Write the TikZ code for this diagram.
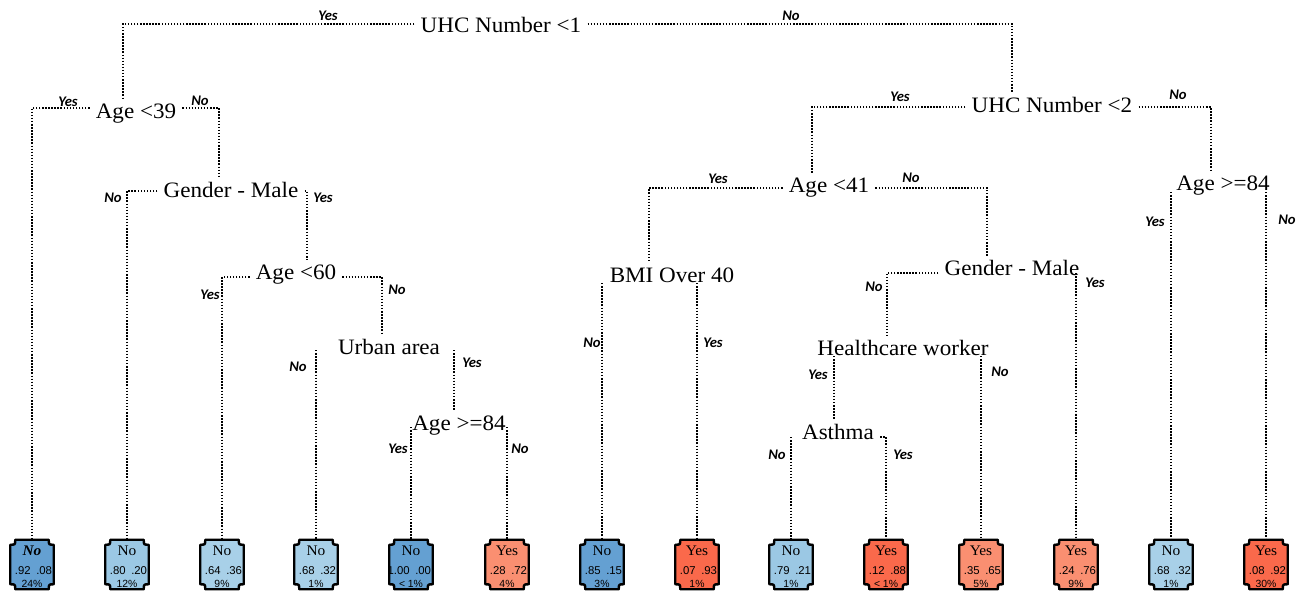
\documentclass[tikz,border=0pt]{standalone}
\usepackage{fontspec}
\setmainfont[FakeStretch=1.05]{Liberation Serif}
\newfontfamily\lblfont{Carlito}
\newfontfamily\numfont{Liberation Sans}
\usetikzlibrary{calc}

\definecolor{bdark}{RGB}{100,160,210}
\definecolor{bmid}{RGB}{155,200,228}
\definecolor{blight}{RGB}{168,208,232}
\definecolor{odark}{RGB}{250,105,75}
\definecolor{olight}{RGB}{250,143,113}

\tikzset{
  split/.style={font=\fontsize{16.5}{18}\selectfont, anchor=base, inner xsep=4.5pt, inner ysep=1.5pt, text height=12.75pt, text depth=3pt},
  yn/.style={font=\lblfont\bfseries\itshape\fontsize{11}{12}\selectfont, inner sep=0pt},
  br/.style={line width=1.5pt, dash pattern=on 1.1pt off 1.2pt},
  leafbox/.style={minimum width=32.25pt, minimum height=36.75pt, inner sep=0pt, draw=none},
  leafline/.style={line width=1.8pt, draw=black, line join=round},
  clsf/.style={font=\fontsize{11}{12}\selectfont, inner sep=0pt},
  numf/.style={font=\numfont\fontsize{8.5}{9}\selectfont, inner sep=0pt},
  pctf/.style={font=\numfont\fontsize{7.8}{9}\selectfont, inner sep=0pt}
}

% #1 name, #2 x, #3 fill, #4 class, #5 p1, #6 p2, #7 percent
\newcommand\leafnode[7]{%
  \node[leafbox] (#1) at (#2,564.5) {};
  \filldraw[leafline, fill=#3]
    ($(#1.north west)+(5,0)$) -- ($(#1.north east)+(-5,0)$)
    .. controls ($(#1.north east)+(-5,5)$) .. ($(#1.north east)+(0,5)$)
    -- ($(#1.south east)+(0,-5)$)
    .. controls ($(#1.south east)+(-5,-5)$) .. ($(#1.south east)+(-5,0)$)
    -- ($(#1.south west)+(5,0)$)
    .. controls ($(#1.south west)+(5,-5)$) .. ($(#1.south west)+(0,-5)$)
    -- ($(#1.north west)+(0,5)$)
    .. controls ($(#1.north west)+(5,5)$) .. ($(#1.north west)+(5,0)$) -- cycle;
  \node[clsf, anchor=base] (#1c) at (#2,555.5) {#4};
  \node[numf, anchor=base east] (#1a) at (#2-1,574.5) {#5};
  \node[numf, anchor=base west] (#1b) at (#2+4,574.5) {#6};
  \node[pctf, anchor=base] (#1p) at (#2,587) {#7};
}

\begin{document}
\begin{tikzpicture}[x=0.75pt, y=-0.75pt]
\useasboundingbox (0,0) rectangle (1303,593);
\fill[white] (0,0) rectangle (1303,593);

% split nodes
\node[split] (S1) at (501,32) {UHC Number <1};
\node[split] (S2) at (136,118) {Age <39};
\node[split] (S3) at (231,197) {Gender - Male};
\node[split] (S4) at (296,279) {Age <60};
\node[split] (S5) at (389,354) {Urban area};
\node[split] (S6) at (459,430) {Age >=84};
\node[split] (S7) at (1052,112) {UHC Number <2};
\node[split] (S8) at (829,192) {Age <41};
\node[split] (S9) at (672,282) {BMI Over 40};
\node[split] (S10) at (1012,275) {Gender - Male};
\node[split] (S11) at (903,355) {Healthcare worker};
\node[split] (S12) at (838,439) {Asthma};
\node[split] (S13) at (1223,190) {Age >=84};

% branch heights
\coordinate (S1b) at (501,24);
\coordinate (S2b) at (136,108);
\coordinate (S3b) at (231,191);
\coordinate (S4b) at (296,277);
\coordinate (S5b) at (389,350);
\coordinate (S6b) at (459,427);
\coordinate (S7b) at (1052,107);
\coordinate (S8b) at (829,188);
\coordinate (S9b) at (672,283);
\coordinate (S10b) at (1012,273);
\coordinate (S11b) at (903,356);
\coordinate (S12b) at (838,437);
\coordinate (S13b) at (1223,192);

% connection points on top of split nodes
\coordinate (S2t) at ($(S2.north)+(-13,0)$);
\coordinate (S3t) at ($(S3.north)+(-12,0)$);
\coordinate (S4t) at ($(S4.north)+(11,0)$);
\coordinate (S5t) at ($(S5.north)+(-7,0)$);
\coordinate (S6t) at ($(S6.north)+(-5,0)$);
\coordinate (S7t) at ($(S7.north)+(-40,0)$);
\coordinate (S8t) at ($(S8.north)+(-17,0)$);
\coordinate (S9t) at ($(S9.north)+(-23,0)$);
\coordinate (S10t) at ($(S10.north)+(-25,0)$);
\coordinate (S11t) at ($(S11.north)+(-16,0)$);
\coordinate (S12t) at ($(S12.north)+(-4,0)$);
\coordinate (S13t) at ($(S13.north)+(-12,0)$);

% leaves
\leafnode{L1}{32}{bdark}{\bfseries\itshape No}{.92}{.08}{24\%}
\leafnode{L2}{127}{bmid}{No}{.80}{.20}{12\%}
\leafnode{L3}{222}{blight}{No}{.64}{.36}{9\%}
\leafnode{L4}{316}{blight}{No}{.68}{.32}{1\%}
\leafnode{L5}{411}{bdark}{No}{1.00}{.00}{< 1\%}
\leafnode{L6}{507}{olight}{Yes}{.28}{.72}{4\%}
\leafnode{L7}{602}{bdark}{No}{.85}{.15}{3\%}
\leafnode{L8}{697}{odark}{Yes}{.07}{.93}{1\%}
\leafnode{L9}{791}{bmid}{No}{.79}{.21}{1\%}
\leafnode{L10}{886}{odark}{Yes}{.12}{.88}{< 1\%}
\leafnode{L11}{981}{olight}{Yes}{.35}{.65}{5\%}
\leafnode{L12}{1076}{olight}{Yes}{.24}{.76}{9\%}
\leafnode{L13}{1171}{blight}{No}{.68}{.32}{1\%}
\leafnode{L14}{1266}{odark}{Yes}{.08}{.92}{30\%}

% connectors
\draw[br] (S1.west |- S1b) -| (S2t);
\draw[br] (S1.east |- S1b) -| (S7t);
\draw[br] (S2.west |- S2b) -| (L1.north);
\draw[br] (S2.east |- S2b) -| (S3t);
\draw[br] (S3.west |- S3b) -| (L2.north);
\draw[br] (S3.east |- S3b) -| (S4t);
\draw[br] (S4.west |- S4b) -| (L3.north);
\draw[br] (S4.east |- S4b) -| (S5t);
\draw[br] (L4.north |- S5b) -- (L4.north);
\draw[br] (S6t |- S5b) -- (S6t);
\draw[br] (L5.north |- S6b) -- (L5.north);
\draw[br] (L6.north |- S6b) -- (L6.north);
\draw[br] (S7.west |- S7b) -| (S8t);
\draw[br] (S7.east |- S7b) -| (S13t);
\draw[br] (S8.west |- S8b) -| (S9t);
\draw[br] (S8.east |- S8b) -| (S10t);
\draw[br] (L7.north |- S9b) -- (L7.north);
\draw[br] (L8.north |- S9b) -- (L8.north);
\draw[br] (S10.west |- S10b) -| (S11t);
\draw[br] (L12.north |- S10b) -- (L12.north);
\draw[br] (S12t |- S11b) -- (S12t);
\draw[br] (L11.north |- S11b) -- (L11.north);
\draw[br] (L9.north |- S12b) -- (L9.north);
\draw[br] (S12.east |- S12b) -| (L10.north);
\draw[br] (L13.north |- S13b) -- (L13.north);
\draw[br] (L14.north |- S13b) -- (L14.north);

% branch labels
\node[yn] (S1y) at (328,16) {Yes};
\node[yn] (S1n) at (791,16) {No};
\node[yn] (S2y) at (68,102) {Yes};
\node[yn] (S2n) at (200,101) {No};
\node[yn] (S3n) at (113,198) {No};
\node[yn] (S3y) at (323,198) {Yes};
\node[yn] (S4y) at (210,295) {Yes};
\node[yn] (S4n) at (397,290) {No};
\node[yn] (S5n) at (298,367) {No};
\node[yn] (S5y) at (472,363) {Yes};
\node[yn] (S6y) at (398,449) {Yes};
\node[yn] (S6n) at (520,449) {No};
\node[yn] (S7y) at (900,97) {Yes};
\node[yn] (S7n) at (1178,95) {No};
\node[yn] (S8y) at (718,179) {Yes};
\node[yn] (S8n) at (911,178) {No};
\node[yn] (S9n) at (592,343) {No};
\node[yn] (S9y) at (713,343) {Yes};
\node[yn] (S10n) at (874,287) {No};
\node[yn] (S10y) at (1095,283) {Yes};
\node[yn] (S11y) at (818,375) {Yes};
\node[yn] (S11n) at (1000,372) {No};
\node[yn] (S12n) at (777,455) {No};
\node[yn] (S12y) at (903,455) {Yes};
\node[yn] (S13y) at (1155,222) {Yes};
\node[yn] (S13n) at (1287,220) {No};
\end{tikzpicture}
\end{document}
